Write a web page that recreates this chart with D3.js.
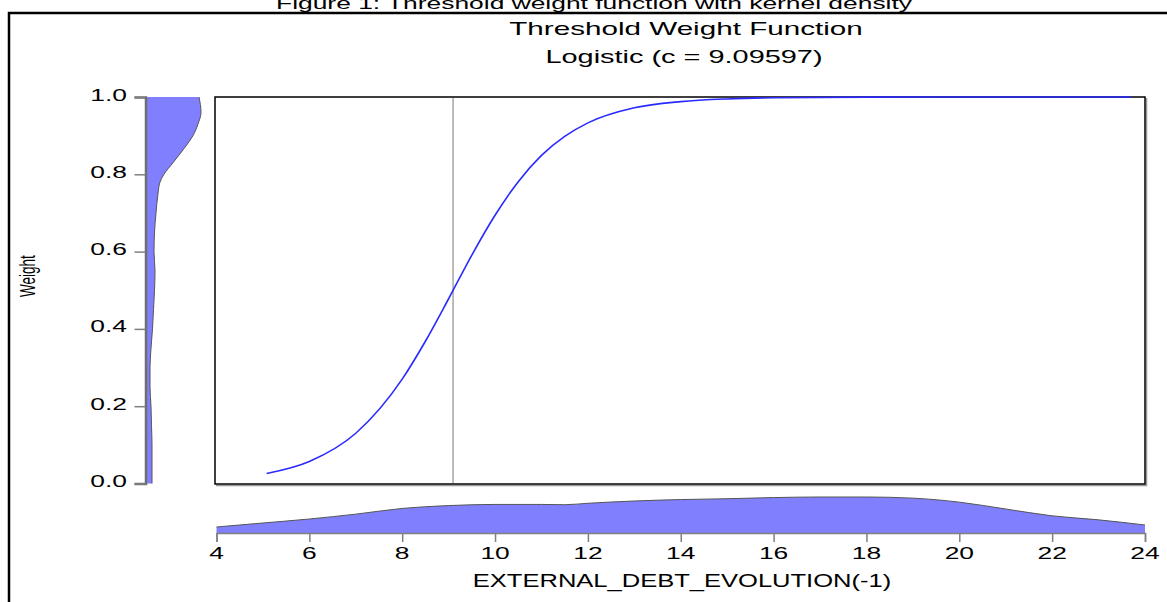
<!DOCTYPE html>
<html>
<head>
<meta charset="utf-8">
<script src="https://cdn.jsdelivr.net/npm/d3@7"></script>
<style>
  body { margin: 0; background: #fff; }
  text { font-family: "Liberation Sans", Arial, sans-serif; fill: #000; }
</style>
</head>
<body>
<svg id="chart" width="1167" height="602"></svg>
<script>
// threshold value of the logistic weight function
const threshold = 9.09597;

// weight function (x value, weight)
const curveX = [5.08, 6, 7, 8, 8.5, 9, 9.5, 10, 10.5, 11, 11.5, 12, 13, 14, 15, 16, 18, 20, 22, 23.7];
const curveW = [0.026, 0.057, 0.130, 0.270, 0.368, 0.478, 0.591, 0.694, 0.781, 0.849, 0.898, 0.933, 0.972, 0.988, 0.995, 0.998, 0.9997, 1.0, 1.0, 1.0];

// kernel density of the threshold variable (bottom strip)
const kdX = [4, 5, 6, 7, 8, 9, 10, 11, 11.5, 12, 13, 14, 15, 16, 17, 18, 19, 20, 21, 22, 23, 24];
const kdXDens = [0.0105, 0.0175, 0.0245, 0.033, 0.043, 0.048, 0.050, 0.050, 0.0495, 0.052, 0.056, 0.0585, 0.060, 0.062, 0.063, 0.063, 0.061, 0.054, 0.042, 0.030, 0.023, 0.014];

// kernel density of the weights (left strip)
const kdW = [0, 0.05, 0.1, 0.15, 0.2, 0.25, 0.3, 0.35, 0.4, 0.45, 0.5, 0.55, 0.6, 0.65, 0.7, 0.75, 0.78, 0.8, 0.83, 0.87, 0.9, 0.93, 0.96, 1.0];
const kdWDens = [0.80, 0.80, 0.80, 0.72, 0.64, 0.48, 0.48, 0.64, 0.88, 1.04, 1.20, 1.28, 1.12, 1.20, 1.44, 1.76, 2.08, 2.72, 4.16, 6.08, 7.36, 8.16, 8.64, 8.32];

const xTicks = [4, 6, 8, 10, 12, 14, 16, 18, 20, 22, 24];
const yTicks = [0, 0.2, 0.4, 0.6, 0.8, 1.0];

const figTitle = 'Figure 1: Threshold weight function with kernel density';
const titleLines = ['Threshold Weight Function', 'Logistic (c = 9.09597)'];
const xLabel = 'EXTERNAL_DEBT_EVOLUTION(-1)';
const yLabel = 'Weight';

// the picture is stretched horizontally, so every text gets this x scale
const SX = 1.65;

const svg = d3.select('#chart');

// plot box
const box = {left: 215, right: 1145, top: 97, bottom: 484};

const x = d3.scaleLinear().domain([4, 24]).range([216.5, 1145]);
const y = d3.scaleLinear().domain([0, 1]).range([483.5, 97]);

// density strips
const xDensBase = 533;
const xDensScale = d3.scaleLinear().domain([0, 0.07]).range([xDensBase, xDensBase - 40]);
const wDensBase = 147;
const wDensScale = d3.scaleLinear().domain([0, 8.8]).range([wDensBase, wDensBase + 55]);

function stretchedText(parent, str, px, py, size, anchor, sx) {
    return parent.append('text')
        .attr('transform', 'translate(' + px + ',' + py + ') scale(' + sx + ',1)')
        .attr('text-anchor', anchor)
        .style('font-size', size + 'px')
        .text(str);
}

// outer frame (cut by the window on the right and bottom)
svg.append('rect')
    .attr('x', 9).attr('y', 13)
    .attr('width', 1300).attr('height', 700)
    .attr('fill', 'none')
    .attr('stroke', '#000')
    .attr('stroke-width', 2.5);

// figure caption, its top is cut off like in the source
stretchedText(svg, figTitle, 594, 9, 16, 'middle', SX);

// chart titles
stretchedText(svg, titleLines[0], 686, 35, 18.3, 'middle', 1.62);
stretchedText(svg, titleLines[1], 684, 63, 18.3, 'middle', 1.58);

/* ------- main plot box ---------- */

// shadow on right and bottom edges
svg.append('path')
    .attr('d', 'M' + (box.right + 1.5) + ',' + (box.top + 1) + 'V' + (box.bottom + 1.5) + 'H' + (box.left + 1))
    .attr('fill', 'none')
    .attr('stroke', '#999')
    .attr('stroke-width', 1.5);

svg.append('rect')
    .attr('x', box.left).attr('y', box.top)
    .attr('width', box.right - box.left)
    .attr('height', box.bottom - box.top)
    .attr('fill', '#fff')
    .attr('stroke', '#000')
    .attr('stroke-width', 1.5);

// threshold line
svg.append('line')
    .attr('x1', x(threshold)).attr('x2', x(threshold))
    .attr('y1', box.top + 1).attr('y2', box.bottom - 1)
    .attr('stroke', '#a6a6a6')
    .attr('stroke-width', 1.5);

// weight function
const curvePts = curveX.map((d, i) => [d, curveW[i]]);
svg.append('path')
    .datum(curvePts)
    .attr('fill', 'none')
    .attr('stroke', '#2a2aff')
    .attr('stroke-width', 1.6)
    .attr('d', d3.line().x(d => x(d[0])).y(d => y(d[1])).curve(d3.curveMonotoneX));

/* ------- bottom density + x axis ---------- */

const xDensPts = kdX.map((d, i) => [d, kdXDens[i]]);
svg.append('path')
    .datum(xDensPts)
    .attr('fill', '#8080ff')
    .attr('stroke', 'none')
    .attr('d', d3.area().x(d => x(d[0])).y0(xDensBase).y1(d => xDensScale(d[1])).curve(d3.curveMonotoneX));
svg.append('path')
    .datum(xDensPts)
    .attr('fill', 'none')
    .attr('stroke', '#555')
    .attr('stroke-width', 1)
    .attr('d', d3.line().x(d => x(d[0])).y(d => xDensScale(d[1])).curve(d3.curveMonotoneX));

const xAxis = svg.append('g')
    .attr('transform', 'translate(0,' + xDensBase + ')')
    .call(d3.axisBottom(x).tickValues(xTicks).tickSize(9).tickFormat(''));
xAxis.select('.domain').attr('stroke', '#808080').attr('stroke-width', 1.5);
xAxis.selectAll('.tick line').attr('stroke', '#808080').attr('stroke-width', 1.5);

xTicks.forEach(t => stretchedText(svg, d3.format('d')(t), x(t), 559, 16, 'middle', SX));

stretchedText(svg, xLabel, 682, 587, 17.5, 'middle', 1.46);

/* ------- left density + y axis ---------- */

const wDensPts = kdW.map((d, i) => [d, kdWDens[i]]);
svg.append('path')
    .datum(wDensPts)
    .attr('fill', '#8080ff')
    .attr('stroke', 'none')
    .attr('d', d3.area().y(d => y(d[0])).x0(wDensBase).x1(d => wDensScale(d[1])).curve(d3.curveMonotoneY));
svg.append('path')
    .datum(wDensPts)
    .attr('fill', 'none')
    .attr('stroke', '#555')
    .attr('stroke-width', 1)
    .attr('d', d3.line().y(d => y(d[0])).x(d => wDensScale(d[1])).curve(d3.curveMonotoneY));

const yAxis = svg.append('g')
    .attr('transform', 'translate(' + 145.5 + ',0)')
    .call(d3.axisLeft(y).tickValues(yTicks).tickSize(11).tickFormat(''));
yAxis.select('.domain').attr('stroke', '#6e6e6e').attr('stroke-width', 2.5);
yAxis.selectAll('.tick line').attr('stroke', '#808080').attr('stroke-width', 1.5);

yTicks.forEach(t => stretchedText(svg, d3.format('.1f')(t), 127, y(t) + 3.5, 16, 'end', SX));

// rotated y label, stretched like the rest
svg.append('text')
    .attr('transform', 'translate(35,276) scale(' + SX + ',1) rotate(-90)')
    .attr('text-anchor', 'middle')
    .style('font-size', '13.5px')
    .text(yLabel);
</script>
</body>
</html>
